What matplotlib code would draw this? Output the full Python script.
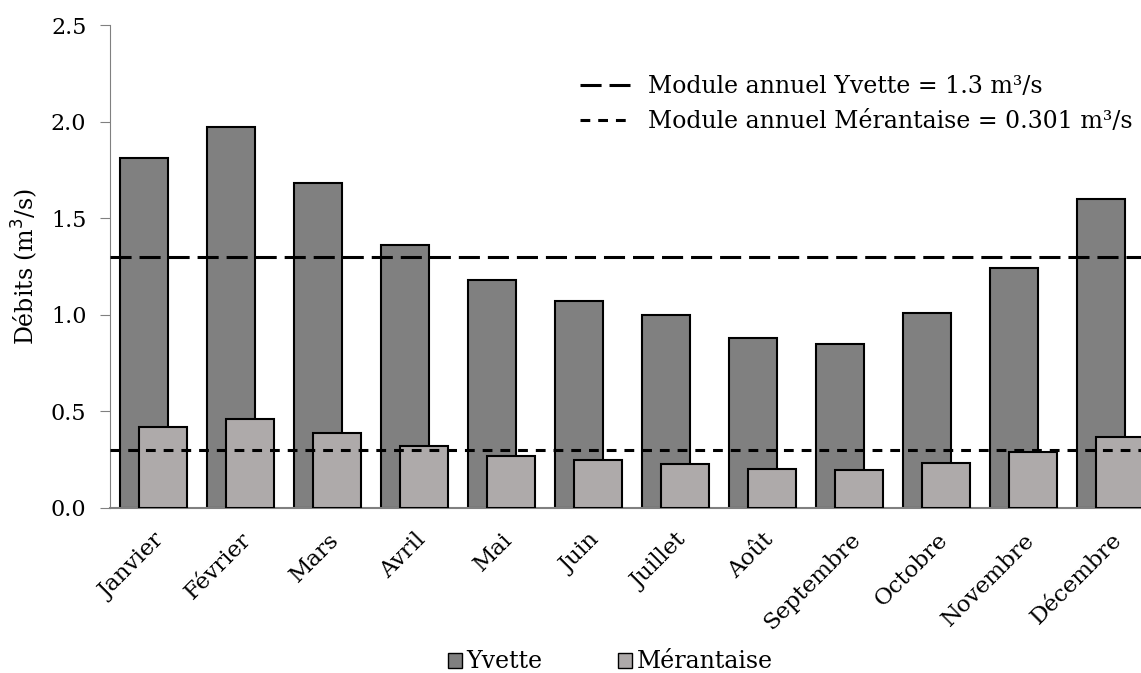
import matplotlib
matplotlib.use('Agg')
import matplotlib.pyplot as plt
import numpy as np
from matplotlib.lines import Line2D
from matplotlib.patches import Patch

plt.rcParams['font.family'] = ['DejaVu Serif']

mois = ['Janvier', 'Février', 'Mars', 'Avril', 'Mai', 'Juin', 'Juillet',
        'Août', 'Septembre', 'Octobre', 'Novembre', 'Décembre']
yvette = [1.81, 1.97, 1.68, 1.36, 1.18, 1.07, 1.00, 0.88, 0.85, 1.01, 1.24, 1.60]
merantaise = [0.42, 0.46, 0.39, 0.32, 0.27, 0.25, 0.23, 0.20, 0.195, 0.235, 0.29, 0.37]
module_yvette = 1.3
module_merantaise = 0.301

fig = plt.figure(figsize=(11.41, 6.73), dpi=100)
ax = fig.add_axes([110/1141, 1-508/673, 1044/1141, 483/673])

x = np.arange(len(mois))
w = 0.552
d = 0.109
ax.bar(x - d, yvette, w, color='#808080', edgecolor='black', linewidth=1.5, zorder=2)
ax.bar(x + d, merantaise, w, color='#aeaaaa', edgecolor='black', linewidth=1.5, zorder=3)

# modules annuels
long_dash = (6.9, 2.6)
short_dash = (3.2, 2.6)
ax.axhline(module_yvette, color='black', lw=2.2, dashes=long_dash, zorder=4)
ax.axhline(module_merantaise, color='black', lw=2.2, dashes=short_dash, zorder=4)

ax.set_xlim(-0.5, 11.5)
ax.set_ylim(0, 2.5)
yt = np.arange(0, 2.51, 0.5)
ax.set_yticks(yt)
ax.set_yticklabels(['%.1f' % v for v in yt], fontsize=16)
ax.set_xticks(x)
ax.set_xticklabels(mois, rotation=45, ha='right', rotation_mode='anchor', fontsize=16.5)
ax.tick_params(axis='x', length=0, pad=15)
ax.tick_params(axis='y', length=7, color='#808080', direction='out', pad=10)
ax.set_ylabel('Débits (m$^3$/s)', fontsize=17, labelpad=8)

for s in ['top', 'right']:
    ax.spines[s].set_visible(False)
ax.spines['left'].set_color('#808080')
ax.spines['bottom'].set_color('#808080')
ax.spines['bottom'].set_linewidth(1.5)

h_lines = [Line2D([], [], color='black', lw=2.2, dashes=long_dash),
           Line2D([], [], color='black', lw=2.2, dashes=short_dash)]
ax.legend(h_lines, ['Module annuel Yvette = 1.3 m³/s',
                    'Module annuel Mérantaise = 0.301 m³/s'],
          loc='upper left', bbox_to_anchor=(470/1044, 1-50/483), frameon=False,
          fontsize=17, handlelength=2.1, handletextpad=0.8, labelspacing=0.5,
          borderaxespad=0, borderpad=0)

h_bars = [Patch(facecolor='#808080', edgecolor='black'),
          Patch(facecolor='#aeaaaa', edgecolor='black')]
fig.legend(h_bars, ['Yvette', 'Mérantaise'], loc='center',
           bbox_to_anchor=(0.535, 1-662/673), ncol=2, frameon=False,
           fontsize=17, handlelength=0.6, handleheight=0.6, handletextpad=0.2,
           columnspacing=3.2)

fig.savefig('out.png', dpi=100)
